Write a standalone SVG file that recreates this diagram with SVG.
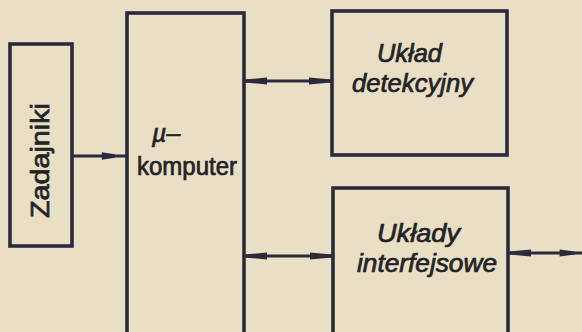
<svg xmlns="http://www.w3.org/2000/svg" width="582" height="332" viewBox="0 0 582 332">
  <style>
    .box { fill: none; stroke: #2a2a3c; stroke-width: 3.6; }
    .wire { fill: none; stroke: #2a2a3c; stroke-width: 2.8; }
    .head { fill: #2a2a3c; stroke: none; }
    .lbl { font-family: "Liberation Sans", Arial, sans-serif; font-size: 25px; fill: #232326; stroke: #232326; stroke-width: 0.7; }
    .it { font-style: italic; }
  </style>
  <defs>
    <!-- long slim arrowhead, tip at origin pointing left -->
    <polygon id="tipL" class="head" points="0,-1.6 22,-3.4 22,3.4 0,1.6"/>
  </defs>

  <rect width="582" height="332" fill="#e8dfc5"/>

  <g id="zadajniki">
    <rect class="box" x="10" y="44" width="62" height="202"/>
    <text class="lbl" font-size="28" text-anchor="middle" textLength="115" lengthAdjust="spacingAndGlyphs" transform="translate(49,160.5) rotate(-90)">Zadajniki</text>
  </g>

  <g id="mikrokomputer">
    <rect class="box" x="127" y="13" width="117" height="330"/>
    <text class="lbl it" x="152" y="142" font-size="26">µ–</text>
    <text class="lbl" x="137" y="175" font-size="26" textLength="100" lengthAdjust="spacingAndGlyphs">komputer</text>
  </g>

  <g id="uklad-detekcyjny">
    <rect class="box" x="332" y="11" width="175" height="144"/>
    <text class="lbl it" x="377" y="62" textLength="65" lengthAdjust="spacingAndGlyphs">Układ</text>
    <text class="lbl it" x="352" y="92" textLength="121" lengthAdjust="spacingAndGlyphs">detekcyjny</text>
  </g>

  <g id="uklady-interfejsowe">
    <rect class="box" x="333" y="188" width="175" height="155"/>
    <text class="lbl it" x="377" y="242" textLength="83" lengthAdjust="spacingAndGlyphs">Układy</text>
    <text class="lbl it" x="357" y="272" textLength="140" lengthAdjust="spacingAndGlyphs">interfejsowe</text>
  </g>

  <g id="connectors">
    <!-- Zadajniki -> µ-komputer -->
    <line class="wire" x1="72" y1="156" x2="127" y2="156"/>
    <use href="#tipL" transform="translate(115,156) rotate(180) scale(0.6,1.1)"/>

    <!-- µ-komputer <-> Układ detekcyjny -->
    <line class="wire" x1="244" y1="81" x2="332" y2="81"/>
    <use href="#tipL" transform="translate(245,81)"/>
    <use href="#tipL" transform="translate(331,81) rotate(180)"/>

    <!-- µ-komputer <-> Układy interfejsowe -->
    <line class="wire" x1="244" y1="256" x2="333" y2="256"/>
    <use href="#tipL" transform="translate(245,256)"/>
    <use href="#tipL" transform="translate(332,256) rotate(180)"/>

    <!-- Układy interfejsowe <-> outside -->
    <line class="wire" x1="508" y1="253" x2="582" y2="253"/>
    <use href="#tipL" transform="translate(509,253)"/>
    <use href="#tipL" transform="translate(575,253) rotate(180) scale(0.7,1)"/>
  </g>
</svg>
